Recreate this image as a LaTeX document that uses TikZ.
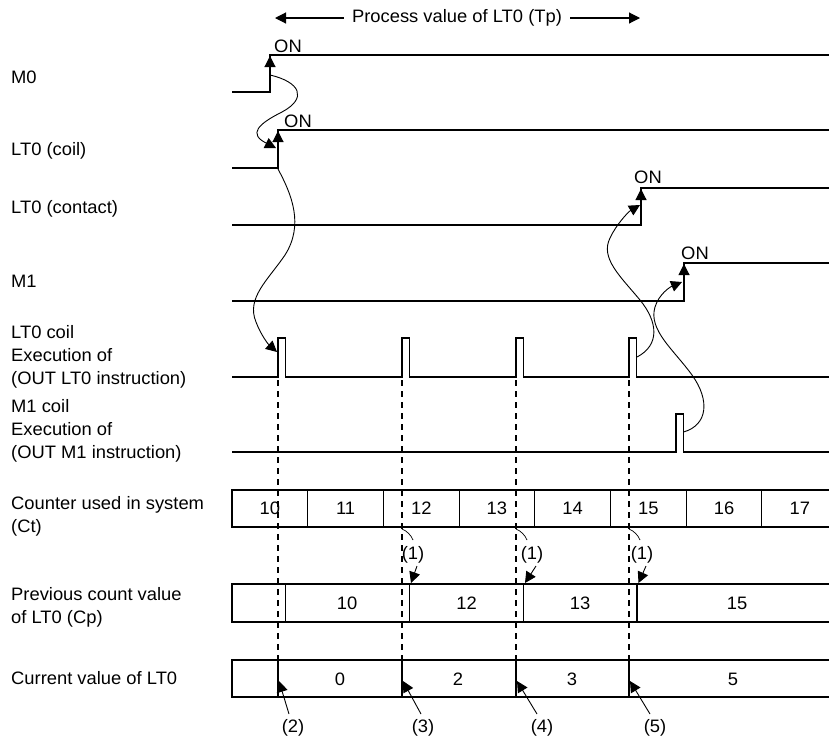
\documentclass[tikz,border=0pt]{standalone}
\usepackage{fontspec}
\setmainfont{Liberation Sans}[FakeStretch=1.02]
\usetikzlibrary{arrows.meta}
\begin{document}
\begin{tikzpicture}[x=1pt,y=-1pt,
  sig/.style={line width=1.1pt, line join=miter},
  lbl/.style={font=\fontsize{18}{23}\selectfont, inner sep=0pt, anchor=west, align=left},
  txt/.style={font=\fontsize{18}{23}\selectfont, inner sep=0pt},
  dsh/.style={line width=1.1pt, dash pattern=on 6pt off 5pt},
  tipar/.style={line width=1.1pt, -{Triangle[length=11pt,width=11pt]}},
  link/.style={line width=0.9pt, -{Triangle[length=11pt,width=11pt]}},
  cell/.style={line width=1.1pt},
]
\path[use as bounding box] (0,0) rectangle (829,740);
\clip (0,0) rectangle (829,740);

% top arrow
\node[txt] (tp) at (457,18) {Process value of LT0 (Tp)};
\coordinate (tpl) at (275,18);
\coordinate (tpr) at (640,18);
\draw[tipar] (tp.west) ++(-8,0) -- (tpl);
\draw[tipar] (tp.east) ++(8,0) -- (tpr);

% labels
\node[lbl] (lm0) at (11,77) {M0};
\node[lbl] (llc) at (11,150.5) {LT0 (coil)};
\node[lbl] (llk) at (11,208.5) {LT0 (contact)};
\node[lbl] (lm1) at (11,281) {M1};
\node[lbl] (lex1) at (11,357) {LT0 coil\\Execution of\\(OUT LT0 instruction)};
\node[lbl] (lex2) at (11,431) {M1 coil\\Execution of\\(OUT M1 instruction)};
\node[lbl] (lct) at (11,516) {Counter used in system\\(Ct)};
\node[lbl] (lcp) at (11,607.5) {Previous count value\\of LT0 (Cp)};
\node[lbl] (lcv) at (11,678) {Current value of LT0};

% signals
\draw[sig] (232,92) -- (270,92) -- (270,55) -- (829,55);
\draw[tipar] (270,72) -- (270,56);
\node[txt] (on1) at (288,46) {ON};

\draw[sig] (232,168) -- (278,168) -- (278,130) -- (829,130);
\draw[tipar] (278,148) -- (278,131);
\node[txt] (on2) at (298,121) {ON};

\draw[sig] (232,225) -- (641,225) -- (641,188) -- (829,188);
\draw[tipar] (641,205) -- (641,189);
\node[txt] (on3) at (648,177) {ON};

\draw[sig] (232,301) -- (684,301) -- (684,263) -- (829,263);
\draw[tipar] (684,280) -- (684,264);
\node[txt] (on4) at (695,253) {ON};

% LT0 execution pulses
\draw[sig] (232,377)
  \foreach \p in {278,402,516,629} { -- (\p,377) -- (\p,338) -- (\p+7.5,338) -- (\p+7.5,377) }
  -- (829,377);
% M1 execution pulse
\draw[sig] (232,452) -- (676,452) -- (676,414) -- (683.5,414) -- (683.5,452) -- (829,452);

% dashed lines
\foreach \p in {278,402,516,629} {
  \draw[dsh] (\p,380) -- (\p,660);
}

% counter row
\draw[cell] (232,490) rectangle (840,527);
\foreach \i/\v in {0/10,1/11,2/12,3/13,4/14,5/15,6/16,7/17} {
  \draw[cell] (232+75.7*\i,490) -- (232+75.7*\i,527);
  \node[txt] (ct\i) at (232+75.7*\i+37.85,508) {\v};
}

% previous count row
\draw[cell] (232,584) rectangle (840,622);
\foreach \d in {285.5,409.5,523.5,637} { \draw[cell] (\d,584) -- (\d,622); }
\node[txt] (cp1) at (347,603) {10};
\node[txt] (cp2) at (466.5,603) {12};
\node[txt] (cp3) at (580,603) {13};
\node[txt] (cp4) at (737,603) {15};

% current value row
\draw[cell] (232,660) rectangle (840,697);
\foreach \d in {278,402,516,629} { \draw[cell] (\d,660) -- (\d,697); }
\node[txt] (cv1) at (340,679) {0};
\node[txt] (cv2) at (458,679) {2};
\node[txt] (cv3) at (572,679) {3};
\node[txt] (cv4) at (733,679) {5};

% (1) annotations
\foreach \d/\c/\lx in {402/409.5/413, 516/523.5/532, 629/637/642} {
  \draw[line width=0.7pt] (\d,529) .. controls (\d+5,531) and (\d+9,535) .. (\d+11,540);
  \node[txt] at (\lx,555) {(1)};
  \draw[link] (\lx+4,566) -- (\c+1.5,583);
}

% (2)-(5) annotations
\node[txt] (n2) at (293,728) {(2)};
\node[txt] (n3) at (423,728) {(3)};
\node[txt] (n4) at (542,728) {(4)};
\node[txt] (n5) at (655,728) {(5)};
\draw[link] (289,714) -- (279,681);
\draw[link] (421,714) -- (403,681);
\draw[link] (537,714) -- (517,681);
\draw[link] (650,714) -- (630,681);

% causal curves
\coordinate (a0) at (270,75);
\coordinate (a1) at (276,148);
\draw[link] (a0) .. controls (300,82) and (308,98) .. (282,112)
  .. controls (258,124) and (248,134) .. (a1);

\coordinate (b0) at (278,169);
\coordinate (b1) at (277,352);
\draw[link] (b0) .. controls (292,195) and (304,225) .. (285,255)
  .. controls (268,280) and (246,298) .. (256,322) .. controls (261,335) and (268,344) .. (b1);

\coordinate (c0) at (637,357);
\coordinate (c1) at (640,205);
\draw[link] (c0) .. controls (660,345) and (658,322) .. (640,300)
  .. controls (620,276) and (600,258) .. (610,238) .. controls (616,225) and (628,212) .. (c1);

\coordinate (d0) at (683.5,432);
\coordinate (d1) at (682,282);
\draw[link] (d0) .. controls (708,425) and (710,400) .. (692,375)
  .. controls (674,350) and (648,330) .. (655,307) .. controls (659,294) and (670,287) .. (d1);
\end{tikzpicture}
\end{document}
